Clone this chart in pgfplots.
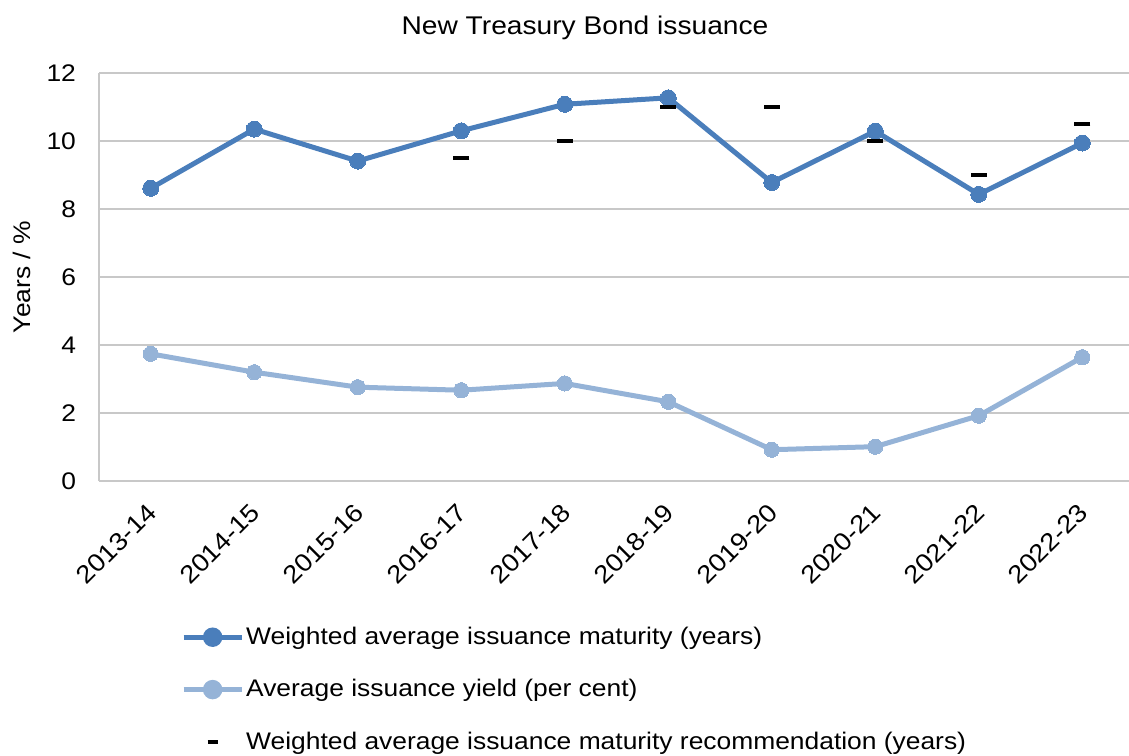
\documentclass[border=0pt]{standalone}
\usepackage{pgfplots}
\pgfplotsset{compat=1.18}
\usepackage{fontspec}
\setmainfont[FakeStretch=1.1]{Liberation Sans}
\definecolor{darkblue}{HTML}{4A7EBB}
\definecolor{lightblue}{HTML}{95B3D7}
\definecolor{gridgray}{HTML}{C8C8C8}
\newcommand{\chartfont}{\fontsize{12}{14}\selectfont}
\newcommand{\titlefont}{\fontsize{12.8}{15}\selectfont}
\begin{document}
\begin{tikzpicture}
\begin{axis}[
  at={(0,0)}, anchor=south west,
  scale only axis,
  width=517.5pt, height=204pt,
  xmin=-0.5, xmax=9.5,
  ymin=0, ymax=12,
  xtick={0,...,9},
  xticklabels={2013-14,2014-15,2015-16,2016-17,2017-18,2018-19,2019-20,2020-21,2021-22,2022-23},
  ytick={0,2,...,12},
  ymajorgrids,
  grid style={gridgray, line width=1pt},
  axis lines*=left,
  axis line style={gridgray, line width=1pt},
  major tick length=0pt,
  tick label style={font=\chartfont, black},
  /pgf/number format/assume math mode=true,
  yticklabel style={xshift=-8pt},
  xticklabel style={font=\fontsize{12.5}{14}\selectfont, xshift=-2.5pt, yshift=-5.5pt, rotate=45, anchor=north east},
  ylabel={Years / \%},
  ylabel style={font=\chartfont, at={(axis description cs:-0.0744,0.5)}, anchor=center, rotate=0},
  legend style={at={(axis description cs:0.079,-0.352)}, anchor=north west, draw=none, fill=none,
    font=\chartfont, row sep=14pt, inner sep=0pt,
    nodes={inner sep=1pt}},
  legend cell align=left,
  clip=false,
]
\addplot[darkblue, line width=2.5pt, mark=*, mark size=4pt, mark options={solid, fill=darkblue, draw=darkblue, line width=0pt},
  legend image code/.code={\draw[darkblue, line width=2.5pt] (0pt,0pt) -- (29pt,0pt); \fill[darkblue] (14.5pt,0pt) circle (3.6pt);}]
coordinates {(0,8.61) (1,10.35) (2,9.41) (3,10.30) (4,11.08) (5,11.27) (6,8.78) (7,10.29) (8,8.43) (9,9.94)};
\addlegendentry{Weighted average issuance maturity (years)}
\addplot[lightblue, line width=2.5pt, mark=*, mark size=3.8pt, mark options={solid, fill=lightblue, draw=lightblue, line width=0pt},
  legend image code/.code={\draw[lightblue, line width=2.5pt] (0pt,0pt) -- (29pt,0pt); \fill[lightblue] (14.5pt,0pt) circle (3.6pt);}]
coordinates {(0,3.74) (1,3.20) (2,2.76) (3,2.67) (4,2.87) (5,2.33) (6,0.92) (7,1.01) (8,1.92) (9,3.64)};
\addlegendentry{Average issuance yield (per cent)}
\addplot[only marks, black, mark=-, mark size=4pt, mark options={line width=2pt},
  legend image code/.code={\draw[black, line width=2pt] (12pt,0pt) -- (17pt,0pt);}]
coordinates {(3,9.5) (4,10) (5,11) (6,11) (7,10) (8,9) (9,10.5)};
\addlegendentry{Weighted average issuance maturity recommendation (years)}
\end{axis}
\node[font=\titlefont] at (243pt,226.5pt) {New Treasury Bond issuance};
\pgfresetboundingbox
\path (-49.5pt,-137pt) rectangle (515pt,240.5pt);
\end{tikzpicture}
\end{document}
